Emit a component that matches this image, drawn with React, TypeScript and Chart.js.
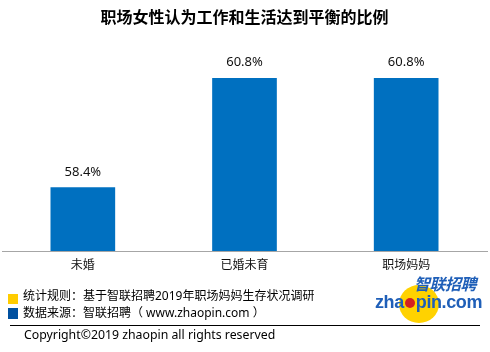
import React, { useEffect, useRef } from "react";
import { Chart, registerables } from "chart.js";

Chart.register(...registerables);

const categories = ["未婚", "已婚未育", "职场妈妈"];
const values = [58.4, 60.8, 60.8];
const titleText = "职场女性认为工作和生活达到平衡的比例";
const noteLines = [
  "统计规则：基于智联招聘2019年职场妈妈生存状况调研",
  "数据来源：智联招聘（ www.zhaopin.com ）",
];
const copyrightText = "Copyright©2019 zhaopin all rights reserved";

const BAR = "#0070C0";
const FONT = "'Noto Sans', 'Noto Sans CJK SC', sans-serif";

const dataLabels = {
  id: "dataLabels",
  afterDatasetsDraw(chart: any) {
    const ctx = chart.ctx;
    const meta = chart.getDatasetMeta(0);
    ctx.save();
    ctx.font = `13px ${FONT}`;
    ctx.fillStyle = "#111";
    ctx.textAlign = "center";
    ctx.textBaseline = "bottom";
    meta.data.forEach((bar: any, i: number) => {
      ctx.fillText(values[i].toFixed(1) + "%", bar.x, bar.y - 9);
    });
    ctx.restore();
  },
};

export default function App() {
  const ref = useRef<HTMLCanvasElement>(null);
  useEffect(() => {
    if (!ref.current) return;
    const chart = new Chart(ref.current, {
      type: "bar",
      data: {
        labels: categories,
        datasets: [
          {
            data: values,
            backgroundColor: BAR,
            borderWidth: 0,
            barPercentage: 0.4,
            categoryPercentage: 1,
          },
        ],
      },
      options: {
        responsive: false,
        animation: false,
        layout: { padding: { left: 2, right: 3, top: 0, bottom: 0 } },
        plugins: {
          legend: { display: false },
          tooltip: { enabled: false },
          title: {
            display: true,
            text: titleText,
            color: "#000",
            font: { family: FONT, size: 16, weight: "bold", lineHeight: 1.2 },
            padding: { top: 9, bottom: 40.8 },
          },
        },
        scales: {
          x: {
            grid: { display: false, drawTicks: false },
            border: { display: true, color: "#a6a6a6", width: 1 },
            ticks: {
              color: "#111",
              font: { family: FONT, size: 12 },
              padding: 7,
            },
            afterFit: (s: any) => {
              s.height = 101;
            },
          },
          y: {
            display: false,
            min: 57,
            max: 61,
          },
        },
      },
      plugins: [dataLabels],
    });
    return () => chart.destroy();
  }, []);

  return (
    <div
      style={{
        position: "absolute",
        left: 0,
        top: 0,
        width: 490,
        height: 352,
        background: "#fff",
        fontFamily: FONT,
        overflow: "hidden",
      }}
    >
      <canvas ref={ref} width={490} height={352} style={{ position: "absolute", left: 0, top: 0 }} />
      <div style={{ position: "absolute", left: 8, top: 294, width: 10, height: 10, background: "#FFCC00" }} />
      <div style={{ position: "absolute", left: 8, top: 308, width: 10, height: 11, background: "#0050A0" }} />
      <div style={{ position: "absolute", left: 23, top: 288, fontSize: 12, lineHeight: "16px", color: "#000", whiteSpace: "pre" }}>
        {noteLines[0]}
      </div>
      <div style={{ position: "absolute", left: 23, top: 305, fontSize: 12, lineHeight: "16px", color: "#000", whiteSpace: "pre" }}>
        {noteLines[1]}
      </div>
      <div style={{ position: "absolute", left: 10, top: 325, width: 470, height: 1, background: "#000" }} />
      <div style={{ position: "absolute", left: 24, top: 327, fontSize: 12.3, lineHeight: "16px", color: "#000", whiteSpace: "nowrap" }}>
        {copyrightText}
      </div>
      {/* logo */}
      <div style={{ position: "absolute", left: 399, top: 285, width: 40, height: 38, borderRadius: "50%", background: "#FFD200" }} />
      <div
        style={{
          position: "absolute",
          left: 414,
          top: 275,
          fontSize: 16,
          fontWeight: "bold",
          fontStyle: "italic",
          color: "#1F5FB8",
          lineHeight: "18px",
          whiteSpace: "nowrap",
          letterSpacing: -0.5,
        }}
      >
        智联招聘
      </div>
      <div
        style={{
          position: "absolute",
          left: 375,
          top: 292,
          fontFamily: "'Liberation Sans', Arial, sans-serif",
          fontSize: 18,
          fontWeight: "bold",
          color: "#1F5FB8",
          lineHeight: "20px",
          whiteSpace: "nowrap",
          letterSpacing: -0.4,
        }}
      >
        zha<span style={{ display: "inline-block", width: 10, height: 10, borderRadius: "50%", background: "#D42020", margin: "0 1px" }} />pin.com
      </div>
    </div>
  );
}
